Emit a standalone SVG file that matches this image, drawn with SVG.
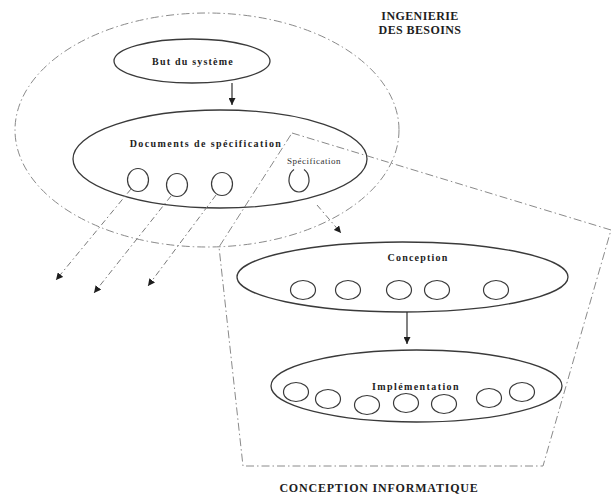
<svg xmlns="http://www.w3.org/2000/svg" width="611" height="497" viewBox="0 0 611 497">
  <style>
    .bg { fill: #ffffff; }
    .solid { fill: none; stroke: #3a3a3a; stroke-width: 1.3; }
    .sub { fill: none; stroke: #3a3a3a; stroke-width: 1.2; }
    .zone { fill: none; stroke: #8a8a8a; stroke-width: 1; stroke-dasharray: 8 3 1.5 3; }
    .flow { fill: none; stroke: #7a7a7a; stroke-width: 1; stroke-dasharray: 6 3 1.5 3; }
    .link { fill: none; stroke: #2e2e2e; stroke-width: 1.2; }
    .title { font-family: "Liberation Serif", "Times New Roman", serif; font-weight: bold; font-size: 12px; fill: #1e1e1e; }
    .label { font-family: "Liberation Serif", "Times New Roman", serif; font-weight: bold; font-size: 10px; fill: #1e1e1e; text-anchor: middle; letter-spacing: 1.2px; }
    .small { font-family: "Liberation Serif", "Times New Roman", serif; font-size: 9px; fill: #333333; letter-spacing: 0.5px; }
  </style>
  <defs>
    <marker id="head" viewBox="0 0 10 10" refX="10" refY="5" markerWidth="7" markerHeight="7" markerUnits="userSpaceOnUse" orient="auto">
      <path d="M0,0 L10,5 L0,10 z" fill="#1e1e1e"/>
    </marker>
  </defs>

  <rect class="bg" x="0" y="0" width="611" height="497"/>

  <!-- Requirements engineering region -->
  <g id="ingenierie-des-besoins">
    <ellipse class="zone" cx="207" cy="130" rx="192" ry="117"/>
    <text class="title" x="420" y="20" text-anchor="middle" letter-spacing="0.4">INGENIERIE</text>
    <text class="title" x="420" y="34" text-anchor="middle" letter-spacing="0.4">DES BESOINS</text>
  </g>

  <!-- Software design region -->
  <g id="conception-informatique">
    <polygon class="zone" points="292,133 611,230 543,466 243,466 219,247"/>
    <text class="title" x="379" y="492" text-anchor="middle" letter-spacing="0.8">CONCEPTION INFORMATIQUE</text>
  </g>

  <g id="but-du-systeme">
    <ellipse class="solid" cx="192" cy="61" rx="78" ry="22"/>
    <text class="label" x="193" y="65">But du système</text>
  </g>

  <g id="documents-de-specification">
    <ellipse class="solid" cx="220" cy="159" rx="147" ry="49"/>
    <text class="label" x="206" y="147" style="letter-spacing:1.4px">Documents de spécification</text>
    <text class="small" x="287" y="164">Spécification</text>
    <ellipse class="sub" cx="138" cy="180" rx="10.5" ry="11.5"/>
    <ellipse class="sub" cx="177" cy="185" rx="10.5" ry="11.5"/>
    <ellipse class="sub" cx="222" cy="184" rx="10.5" ry="11.5"/>
    <path class="sub" d="M304,169.6 A10,12 0 1 1 294,169.6"/>
  </g>

  <g id="conception">
    <ellipse class="solid" cx="402.5" cy="277" rx="165.5" ry="35"/>
    <text class="label" x="418" y="261">Conception</text>
    <ellipse class="sub" cx="303" cy="290" rx="12.5" ry="9.5"/>
    <ellipse class="sub" cx="348" cy="290" rx="12.5" ry="9.5"/>
    <ellipse class="sub" cx="399" cy="290" rx="12.5" ry="9.5"/>
    <ellipse class="sub" cx="437" cy="290" rx="12.5" ry="9.5"/>
    <ellipse class="sub" cx="496" cy="290" rx="12.5" ry="9.5"/>
  </g>

  <g id="implementation">
    <ellipse class="solid" cx="416.5" cy="386" rx="145.5" ry="36"/>
    <text class="label" x="416" y="390" style="letter-spacing:1.4px">Implémentation</text>
    <ellipse class="sub" cx="296" cy="392" rx="12.5" ry="9.5"/>
    <ellipse class="sub" cx="328" cy="399" rx="12.5" ry="9.5"/>
    <ellipse class="sub" cx="367" cy="405" rx="12.5" ry="9.5"/>
    <ellipse class="sub" cx="406" cy="403" rx="12.5" ry="9.5"/>
    <ellipse class="sub" cx="444" cy="404" rx="12.5" ry="9.5"/>
    <ellipse class="sub" cx="489" cy="398" rx="12.5" ry="9.5"/>
    <ellipse class="sub" cx="522" cy="392" rx="12.5" ry="9.5"/>
  </g>

  <g id="connectors">
    <line class="link" x1="232" y1="83" x2="232" y2="105" marker-end="url(#head)"/>
    <line class="link" x1="407" y1="312" x2="407" y2="344" marker-end="url(#head)"/>
    <line class="flow" x1="317" y1="205" x2="341" y2="233" marker-end="url(#head)"/>
    <line class="flow" x1="131" y1="189" x2="56" y2="280" marker-end="url(#head)"/>
    <line class="flow" x1="171" y1="196" x2="94" y2="293" marker-end="url(#head)"/>
    <line class="flow" x1="216" y1="195" x2="148" y2="286" marker-end="url(#head)"/>
  </g>
</svg>
